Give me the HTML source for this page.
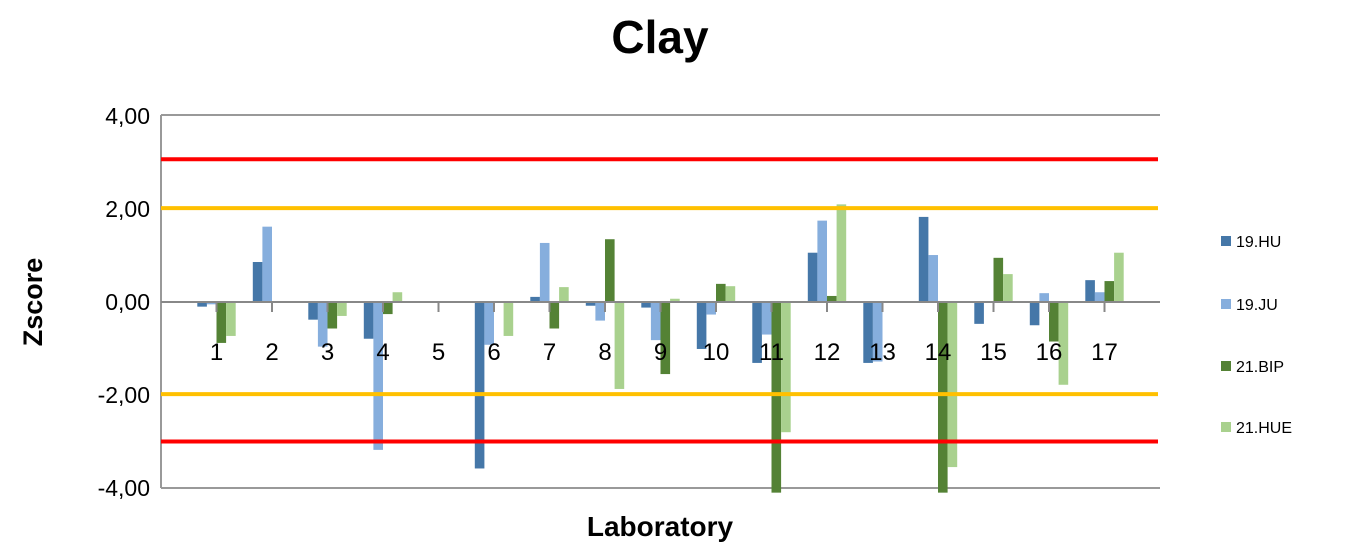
<!DOCTYPE html>
<html><head><meta charset="utf-8"><style>
body{margin:0;background:#fff;width:1351px;height:550px;overflow:hidden;font-family:"Liberation Sans",sans-serif}
svg text{font-family:"Liberation Sans",sans-serif}
</style></head><body>
<svg id="chart" width="1351" height="550" xmlns="http://www.w3.org/2000/svg">
<text x="660" y="53" text-anchor="middle" font-size="46" font-weight="bold">Clay</text>
<text transform="translate(42,302) rotate(-90)" text-anchor="middle" font-size="27" font-weight="bold">Zscore</text>
<text x="660" y="536" text-anchor="middle" font-size="28" font-weight="bold">Laboratory</text>
<g id="plot"></g>
<g id="legend"></g>
</svg>
<script>
const categories=["1","2","3","4","5","6","7","8","9","10","11","12","13","14","15","16","17"];
const hu=[-0.10,0.86,-0.38,-0.79,0,-3.58,0.11,-0.08,-0.12,-1.01,-1.31,1.06,-1.31,1.83,-0.47,-0.50,0.47];
const ju=[-0.05,1.62,-0.96,-3.18,0,-0.92,1.27,-0.40,-0.82,-0.27,-0.70,1.75,-1.28,1.01,0,0.19,0.21];
const bip=[-0.88,0,-0.57,-0.26,0,0,-0.57,1.35,-1.55,0.39,-4.1,0.13,0,-4.1,0.95,-0.85,0.45];
const hue=[-0.73,0,-0.30,0.21,0,-0.73,0.32,-1.87,0.07,0.34,-2.80,2.10,0,-3.55,0.60,-1.78,1.06];
const seriesNames=["19.HU","19.JU","21.BIP","21.HUE"];
const yTicks=[4,2,0,-2,-4];
const tickLabels=["4,00","2,00","0,00","-2,00","-4,00"];
const limitLines=[3.07,2.02,-1.98,-3.0];
const limitColors=["#ff0000","#ffc000","#ffc000","#ff0000"];
const colors=["#4577a8","#86aedd","#548235","#a9d18e"];
const NS="http://www.w3.org/2000/svg";
const L=161,R=1160,T=115,B=488;
const y=v=>302-v*46.5;
const step=(R-L)/18;
const x=i=>L+(i+1)*step;
const plot=document.getElementById('plot');
function mk(tag,attrs,parent){const e=document.createElementNS(NS,tag);for(const k in attrs)e.setAttribute(k,attrs[k]);(parent||plot).appendChild(e);return e;}
let e;
e=mk('line',{x1:L,y1:T,x2:R,y2:T,stroke:'#999','stroke-width':2});


e=mk('line',{x1:L,y1:B,x2:R,y2:B,stroke:'#999','stroke-width':2});


e=mk('line',{x1:L,y1:T,x2:L,y2:B,stroke:'#999','stroke-width':2});


yTicks.forEach((v,i)=>{
 e=mk('text',{x:150,y:y(v)+8,'text-anchor':'end','font-size':23});
 e.textContent=tickLabels[i];
 
 
});
const all=[hu,ju,bip,hue];
const bw=9.6;
categories.forEach((c,i)=>{
 all.forEach((s,k)=>{
  const v=s[i];
  const bx=x(i)-2*bw+k*bw;
  e=mk('rect',{x:bx,y:Math.min(y(v),y(0)),width:bw,height:Math.abs(y(v)-y(0)),fill:colors[k]});
  
  
 });
});
e=mk('line',{x1:L,y1:y(0),x2:R,y2:y(0),stroke:'#888','stroke-width':2});


categories.forEach((c,i)=>{
 e=mk('line',{x1:x(i),y1:y(0),x2:x(i),y2:y(0)+10,stroke:'#888','stroke-width':2});
 
 
 e=mk('text',{x:x(i),y:360,'text-anchor':'middle','font-size':24});
 e.textContent=c;
 
 
});
limitLines.forEach((v,i)=>{
 e=mk('line',{x1:L,y1:y(v),x2:R-2,y2:y(v),stroke:limitColors[i],'stroke-width':4});
 
 
});
const leg=document.getElementById('legend');
const ly=[242,305,367,428];
seriesNames.forEach((n,k)=>{
 e=mk('rect',{x:1221,y:ly[k]-6,width:10,height:10,fill:colors[k]},leg);
 
 
 e=mk('text',{x:1236,y:ly[k]+5,'font-size':16},leg);
 e.textContent=n;
 
 
});
</script>
</body></html>
